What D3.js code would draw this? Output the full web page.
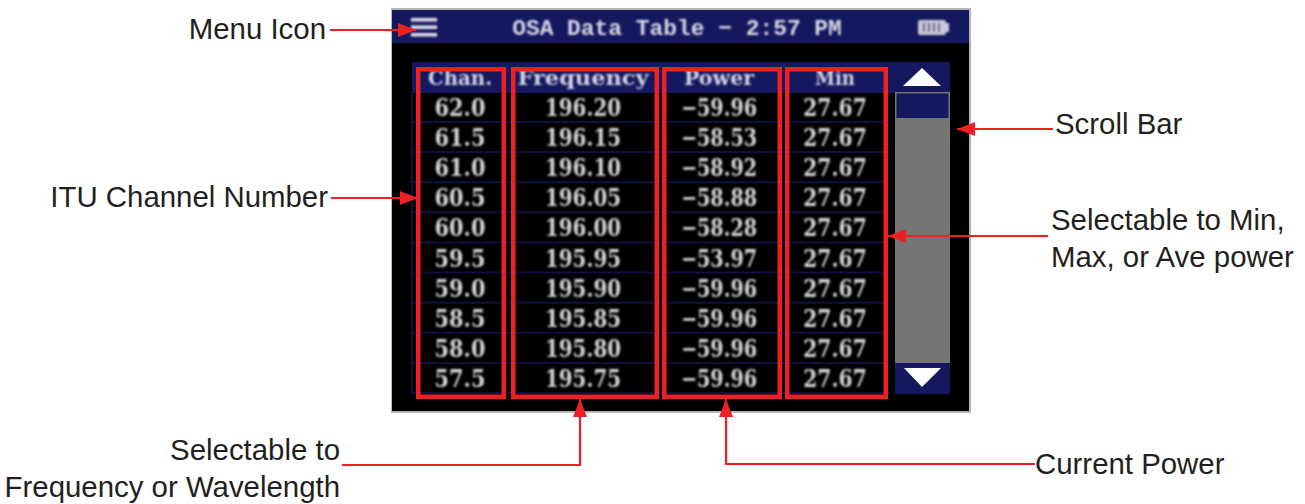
<!DOCTYPE html>
<html lang="en">
<head>
    <meta charset="UTF-8">
    <title>OSA Data Table</title>
    <script src="https://d3js.org/d3.v7.min.js"></script>
    <style>
        html, body { margin: 0; padding: 0; background: #fff; }
        svg { display: block; }
    </style>
</head>
<body>
<div id="main"></div>
<script>
    // table contents
    const columns = ["Chan.", "Frequency", "Power", "Min"]
    const channels = ["62.0", "61.5", "61.0", "60.5", "60.0", "59.5", "59.0", "58.5", "58.0", "57.5"]
    const frequencies = ["196.20", "196.15", "196.10", "196.05", "196.00", "195.95", "195.90", "195.85", "195.80", "195.75"]
    const powers = ["\u221259.96", "\u221258.53", "\u221258.92", "\u221258.88", "\u221258.28", "\u221253.97", "\u221259.96", "\u221259.96", "\u221259.96", "\u221259.96"]
    const minPowers = ["27.67", "27.67", "27.67", "27.67", "27.67", "27.67", "27.67", "27.67", "27.67", "27.67"]
    const titleText = "OSA Data Table \u2212 2:57 PM"

    const width = 1305, height = 504
    const navy = "#14185e", red = "#ee2024", cellText = "#d6d6d6"
    const labelFont = "'Liberation Sans', Arial, sans-serif"
    const screenFont = "'DejaVu Serif', serif"

    const svg = d3.select("#main").append("svg")
        .attr("width", width)
        .attr("height", height)

    const defs = svg.append("defs")
    defs.append("filter").attr("id", "soft")
        .append("feGaussianBlur").attr("stdDeviation", 0.8)

    defs.append("marker")
        .attr("id", "arrow")
        .attr("viewBox", "0 0 18 14")
        .attr("refX", 18).attr("refY", 7)
        .attr("markerUnits", "userSpaceOnUse")
        .attr("markerWidth", 18).attr("markerHeight", 14)
        .attr("orient", "auto")
        .append("path").attr("d", "M0,0 L18,7 L0,14 Z").attr("fill", red)

    // device screen
    const screen = svg.append("g")
    screen.append("rect").attr("x", 391).attr("y", 8).attr("width", 580).attr("height", 405).attr("fill", "#b5b5b5")
    screen.append("rect").attr("x", 392).attr("y", 10).attr("width", 577).attr("height", 401).attr("fill", "#000")
    screen.append("rect").attr("x", 392).attr("y", 10).attr("width", 577).attr("height", 33).attr("fill", navy)

    // menu icon
    screen.append("g").attr("filter", "url(#soft)").selectAll("rect")
        .data([0, 1, 2])
        .enter().append("rect")
        .attr("x", 411).attr("y", d => 18 + d * 7.5)
        .attr("width", 26).attr("height", 3.5)
        .attr("fill", "#e2e2f0")

    screen.append("text")
        .attr("x", 677).attr("y", 35)
        .attr("text-anchor", "middle")
        .attr("font-family", "'Liberation Mono', monospace")
        .attr("font-weight", "bold")
        .attr("font-size", 22.9)
        .attr("fill", "#d8d8e6")
        .attr("filter", "url(#soft)")
        .text(titleText)

    // battery
    const battery = screen.append("g").attr("filter", "url(#soft)")
    battery.append("rect").attr("x", 918).attr("y", 20).attr("width", 28).attr("height", 15).attr("rx", 2).attr("fill", "#c8c8d8")
    battery.append("rect").attr("x", 946).attr("y", 23).attr("width", 3).attr("height", 9).attr("fill", "#c8c8d8")
    battery.selectAll("rect.cell")
        .data([0, 1, 2, 3])
        .enter().append("rect")
        .attr("class", "cell")
        .attr("x", d => 923 + d * 5).attr("y", 23).attr("width", 1.5).attr("height", 9).attr("fill", navy)

    // table
    const xScale = d3.scaleOrdinal()
        .domain(columns)
        .range([460, 583, 719, 835])
    const yScale = d3.scalePoint()
        .domain(d3.range(channels.length))
        .range([107, 378])
    const headerWidth = d3.scaleOrdinal()
        .domain(columns)
        .range([64, 131, 70, 40])
    const charWidth = 12.7

    const table = svg.append("g")
    table.append("rect").attr("x", 412).attr("y", 62).attr("width", 538).attr("height", 31).attr("fill", navy)

    // row dividers
    table.append("g").selectAll("line")
        .data(d3.range(channels.length))
        .enter().append("line")
        .attr("x1", 412).attr("x2", 886)
        .attr("y1", d => yScale(d) + 15).attr("y2", d => yScale(d) + 15)
        .attr("stroke", "#0e1040").attr("stroke-width", 2)
    table.append("line")
        .attr("x1", 412).attr("x2", 412).attr("y1", 93).attr("y2", 394)
        .attr("stroke", "#0e1040").attr("stroke-width", 2)

    const textLayer = table.append("g")
        .attr("font-family", screenFont)
        .attr("font-weight", "bold")
        .attr("text-anchor", "middle")
        .attr("filter", "url(#soft)")

    textLayer.selectAll("text.head")
        .data(columns)
        .enter().append("text")
        .attr("class", "head")
        .attr("x", d => xScale(d)).attr("y", 85)
        .attr("font-size", 21)
        .attr("textLength", d => headerWidth(d))
        .attr("lengthAdjust", "spacingAndGlyphs")
        .attr("fill", "#d4d4e6")
        .text(d => d)

    const rows = [channels, frequencies, powers, minPowers]
    columns.forEach(function (col, c) {
        textLayer.selectAll("text.c" + c)
            .data(rows[c])
            .enter().append("text")
            .attr("class", "c" + c)
            .attr("x", xScale(col))
            .attr("y", (d, i) => yScale(i) + 9)
            .attr("font-size", 24)
            .attr("textLength", d => d.length * charWidth)
            .attr("lengthAdjust", "spacingAndGlyphs")
            .attr("fill", cellText)
            .text(d => d)
    })

    // scroll bar
    const scroll = svg.append("g")
    scroll.append("rect").attr("x", 895).attr("y", 92).attr("width", 55).attr("height", 272).attr("fill", "#757575")
    scroll.append("rect").attr("x", 896.5).attr("y", 93.5).attr("width", 52).attr("height", 24.5).attr("fill", navy)
    scroll.append("rect").attr("x", 895).attr("y", 363).attr("width", 55).attr("height", 31).attr("fill", navy)
    scroll.append("path").attr("d", "M903,86 L922,68 L941,86 Z").attr("fill", "#fff")
    scroll.append("path").attr("d", "M904,368 L941,368 L922,387 Z").attr("fill", "#fff")

    // red boxes around the columns, outer edges
    const boxes = [[416, 506], [511, 659], [662, 782], [785, 888]]
    svg.append("g").selectAll("rect")
        .data(boxes)
        .enter().append("rect")
        .attr("x", d => d[0] + 2.25).attr("y", 69.25)
        .attr("width", d => d[1] - d[0] - 4.5).attr("height", 327.5)
        .attr("fill", "none")
        .attr("stroke", red).attr("stroke-width", 4.5)

    // callouts
    const callouts = [
        "M330,30 L416,30",
        "M331,198 L418,198",
        "M1053,129 L957,129",
        "M1048,236 L888,236",
        "M342,465 L580,465 L580,399",
        "M1035,464 L726,464 L726,399"
    ]
    svg.append("g").selectAll("path")
        .data(callouts)
        .enter().append("path")
        .attr("d", d => d)
        .attr("fill", "none")
        .attr("stroke", red).attr("stroke-width", 2.2)
        .attr("marker-end", "url(#arrow)")

    const labels = [
        {text: "Menu Icon", x: 326, y: 39, anchor: "end"},
        {text: "ITU Channel Number", x: 328, y: 207, anchor: "end"},
        {text: "Scroll Bar", x: 1055, y: 134, anchor: "start"},
        {text: "Selectable to Min,", x: 1051, y: 230, anchor: "start"},
        {text: "Max, or Ave power", x: 1051, y: 267, anchor: "start"},
        {text: "Selectable to", x: 340, y: 460, anchor: "end"},
        {text: "Frequency or Wavelength", x: 340, y: 497, anchor: "end"},
        {text: "Current Power", x: 1035, y: 474, anchor: "start"}
    ]
    svg.append("g").selectAll("text")
        .data(labels)
        .enter().append("text")
        .attr("x", d => d.x).attr("y", d => d.y)
        .attr("text-anchor", d => d.anchor)
        .attr("font-family", labelFont)
        .attr("font-size", 29.4)
        .attr("fill", "#231f20")
        .text(d => d.text)
</script>
</body>
</html>
